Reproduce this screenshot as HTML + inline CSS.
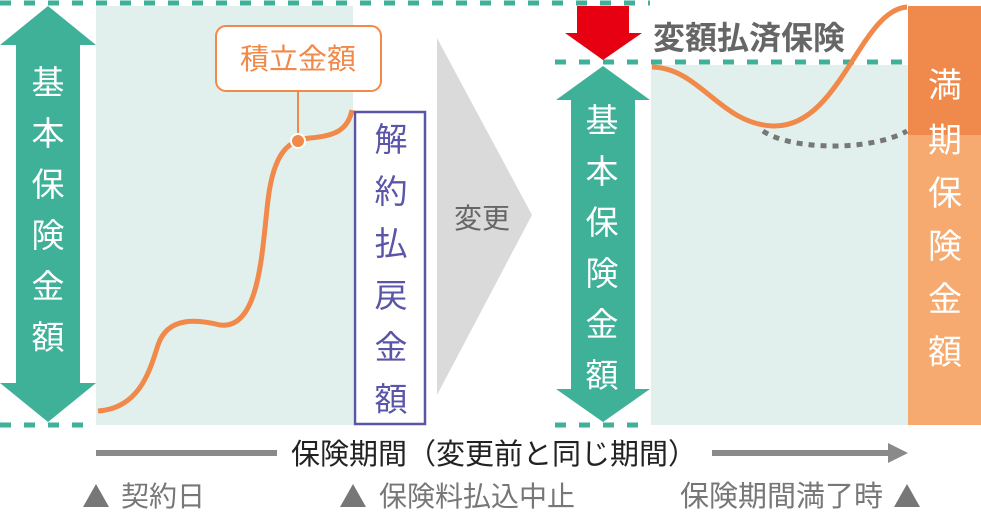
<!DOCTYPE html>
<html><head><meta charset="utf-8"><style>
body{margin:0;background:#fff;}
svg text{font-family:"Liberation Sans","Noto Sans CJK JP",sans-serif;}
</style></head><body>
<svg width="981" height="510" viewBox="0 0 981 510" xmlns="http://www.w3.org/2000/svg">
<rect x="96" y="6" width="257" height="419" fill="#e1f0ec"/>
<rect x="651" y="65" width="257" height="360" fill="#e1f0ec"/>
<rect x="908" y="6" width="73" height="129" fill="#ef8a4c"/>
<rect x="908" y="135" width="73" height="290" fill="#f6aa6f"/>
<g stroke="#3eb198" stroke-width="5" stroke-dasharray="11,13">
<line x1="0" y1="3" x2="650" y2="3"/>
<line x1="0" y1="425" x2="96" y2="425"/>
<line x1="555" y1="62" x2="908" y2="62"/>
<line x1="555" y1="425" x2="650" y2="425"/>
</g>
<polygon points="48,6 96,45 80,45 80,383 96,383 48,422 0,383 16,383 16,45 0,45" fill="#3eb198"/>
<g fill="#fff" font-size="33" text-anchor="middle">
<text x="48" y="94">基</text><text x="48" y="145">本</text><text x="48" y="196">保</text><text x="48" y="247">険</text><text x="48" y="298">金</text><text x="48" y="349">額</text>
</g>
<path d="M98,411 C140,408 150,370 158,345 C168,315 200,320 220,325 C260,330 262,250 268,200 C274,150 290,140 310,138 C335,136 348,130 352,110" fill="none" stroke="#f0894a" stroke-width="5"/>
<line x1="298" y1="91" x2="298" y2="141" stroke="#f0894a" stroke-width="2"/>
<circle cx="298" cy="141" r="7" fill="#f0894a" stroke="#fff" stroke-width="2"/>
<rect x="216" y="26" width="165" height="65" rx="10" fill="#fff" stroke="#f0894a" stroke-width="2"/>
<text x="298" y="69" font-size="29" fill="#f0894a" text-anchor="middle">積立金額</text>
<rect x="355" y="112" width="70" height="312" fill="#fff" stroke="#5b55a8" stroke-width="2.5"/>
<g fill="#5b55a8" font-size="33" text-anchor="middle">
<text x="391" y="151">解</text><text x="391" y="203">約</text><text x="391" y="255">払</text><text x="391" y="307">戻</text><text x="391" y="359">金</text><text x="391" y="411">額</text>
</g>
<polygon points="437,38 532,215 437,395" fill="#dadada"/>
<text x="482" y="228" font-size="28" fill="#666" text-anchor="middle">変更</text>
<polygon points="577,6 629,6 629,33 642,33 603,60 565,33 577,33" fill="#e60012"/>
<text x="653" y="49" font-size="32" font-weight="bold" fill="#666">変額払済保険</text>
<polygon points="603,66 650,100 635,100 635,389 650,389 603,422 556,389 571,389 571,100 556,100" fill="#3eb198"/>
<g fill="#fff" font-size="33" text-anchor="middle">
<text x="602" y="132">基</text><text x="602" y="183">本</text><text x="602" y="234">保</text><text x="602" y="285">険</text><text x="602" y="336">金</text><text x="602" y="387">額</text>
</g>
<path d="M652,67 C700,68 720,124 773,126 C840,128 860,10 907,7" fill="none" stroke="#f0894a" stroke-width="5"/>
<path d="M763,131 C790,150 870,152 907,131" fill="none" stroke="#777" stroke-width="5" stroke-dasharray="6,6"/>
<g fill="#fff" font-size="34" text-anchor="middle">
<text x="945" y="97">満</text><text x="945" y="152">期</text><text x="945" y="205">保</text><text x="945" y="258">険</text><text x="945" y="311">金</text><text x="945" y="364">額</text>
</g>
<line x1="96" y1="453" x2="277" y2="453" stroke="#8a8a8a" stroke-width="6"/>
<line x1="712" y1="453" x2="890" y2="453" stroke="#8a8a8a" stroke-width="6"/>
<polygon points="888,443 908,453 888,463" fill="#8a8a8a"/>
<text x="494" y="464" font-size="29" fill="#222" text-anchor="middle">保険期間（変更前と同じ期間）</text>
<g fill="#777">
<polygon points="96,484 109,507 83,507"/>
<polygon points="353,484 366,507 340,507"/>
<polygon points="907,484 920,507 894,507"/>
</g>
<g fill="#777" font-size="28">
<text x="121" y="506">契約日</text>
<text x="379" y="506">保険料払込中止</text>
<text x="883" y="506" text-anchor="end" font-size="29">保険期間満了時</text>
</g>
</svg>
</body></html>
